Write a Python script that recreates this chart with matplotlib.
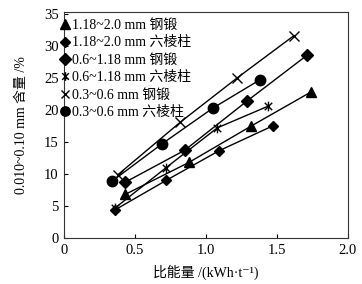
import matplotlib
matplotlib.use("Agg")
import matplotlib.pyplot as plt
from matplotlib.path import Path

plt.rcParams['font.family'] = ['Liberation Serif', 'Noto Sans CJK SC', 'DejaVu Serif']

labels = ["1.18~2.0 mm 钢锻", "1.18~2.0 mm 六棱柱", "0.6~1.18 mm 钢锻",
          "0.6~1.18 mm 六棱柱", "0.3~0.6 mm 钢锻", "0.3~0.6 mm 六棱柱"]

x_tri = [0.43, 0.88, 1.32, 1.74]
y_tri = [6.8, 11.8, 17.5, 22.8]
x_dsm = [0.36, 0.72, 1.09, 1.47]
y_dsm = [4.4, 9.0, 13.6, 17.5]
x_dlg = [0.43, 0.85, 1.29, 1.71]
y_dlg = [8.7, 13.7, 21.4, 28.5]
x_star = [0.36, 0.72, 1.08, 1.44]
y_star = [4.7, 11.0, 17.2, 20.6]
x_x = [0.38, 0.82, 1.22, 1.62]
y_x = [9.9, 18.1, 25.0, 31.6]
x_c = [0.34, 0.69, 1.05, 1.38]
y_c = [8.9, 14.7, 20.3, 24.7]

star = Path([(-1, -1), (1, 1), (-1, 1), (1, -1), (0, -1.3), (0, 1.3)],
            [Path.MOVETO, Path.LINETO, Path.MOVETO, Path.LINETO, Path.MOVETO, Path.LINETO])

fig = plt.figure(figsize=(3.62, 2.84), dpi=100)
ax = fig.add_axes([0.177, 0.162, 0.784, 0.796])

series = [
    (x_tri, y_tri, dict(marker='^', markersize=7.5)),
    (x_dsm, y_dsm, dict(marker='D', markersize=5.5)),
    (x_dlg, y_dlg, dict(marker='D', markersize=6.5)),
    (x_star, y_star, dict(marker=star, markersize=7, markerfacecolor='none', markeredgewidth=1.0)),
    (x_x, y_x, dict(marker='x', markersize=7, markeredgewidth=1.0)),
    (x_c, y_c, dict(marker='o', markersize=7.5)),
]
for (xs, ys, kw), lab in zip(series, labels):
    ax.plot(xs, ys, color='black', linewidth=1.0, markerfacecolor=kw.pop('markerfacecolor', 'black'),
            markeredgecolor='black', label=lab, **kw)

ax.set_xlim(0, 2.0)
ax.set_ylim(0, 35.3)
ax.set_xticks([0, 0.5, 1.0, 1.5, 2.0])
ax.set_xticklabels(["0", "0.5", "1.0", "1.5", "2.0"])
ax.set_yticks(range(0, 36, 5))
ax.tick_params(direction='in', length=3, width=0.8, labelsize=10.5, colors='black', pad=4)
for s in ax.spines.values():
    s.set_linewidth(0.8)
    s.set_color('#333333')

ax.set_xlabel("比能量 /(kWh·t\u207b\u00b9)", fontsize=10, labelpad=6)
ax.set_ylabel("0.010~0.10 mm 含量 /%", fontsize=10, labelpad=11)

leg = ax.legend(loc='upper left', bbox_to_anchor=(0.0, 0.975), frameon=False, fontsize=10,
                handlelength=0, handletextpad=0.45, borderaxespad=0.0, labelspacing=0.32,
                borderpad=0.1, markerscale=0.9)

fig.savefig("out.png", dpi=100)
